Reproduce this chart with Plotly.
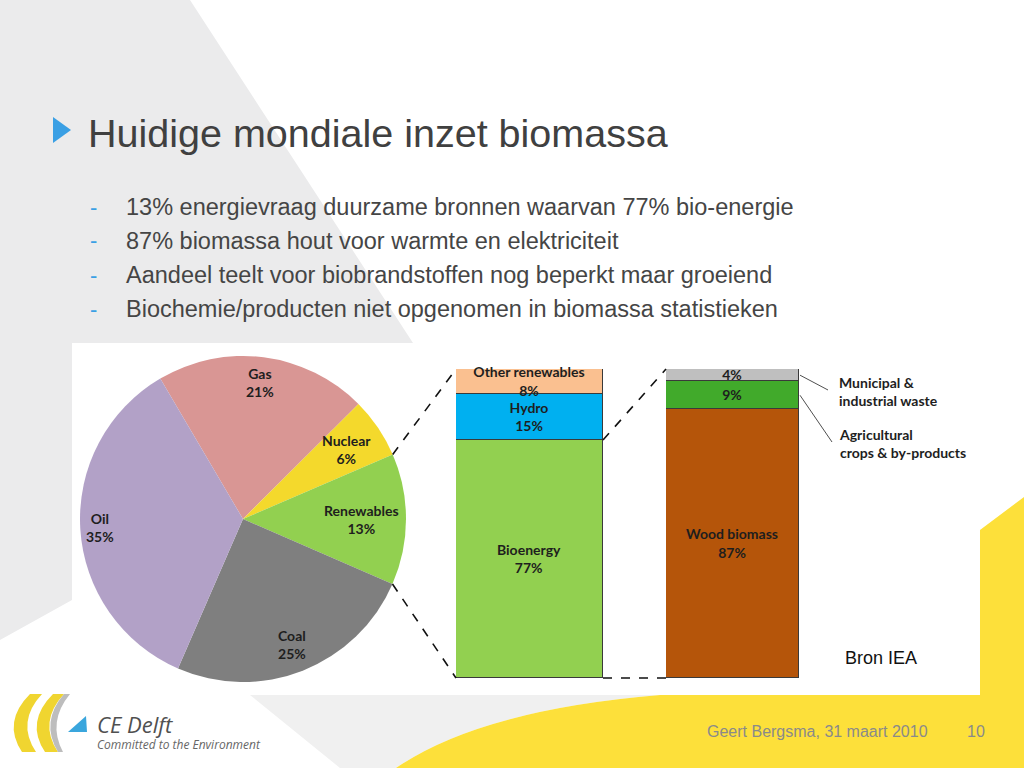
import math
import plotly.graph_objects as go

W, H = 1024, 768

# ---------------- data ----------------
pie_labels = ["Gas", "Nuclear", "Renewables", "Coal", "Oil"]
pie_values = [21, 6, 13, 25, 35]
pie_colors = ["#D99694", "#F4D92C", "#92D050", "#7F7F7F", "#B2A1C7"]

ren_labels = ["Bioenergy", "Hydro", "Other renewables"]
ren_values = [77, 15, 8]
ren_colors = ["#92D050", "#00B0F0", "#FAC090"]

bio_labels = ["Wood biomass", "Agricultural<br>crops & by-products", "Municipal &<br>industrial waste"]
bio_values = [87, 9, 4]
bio_colors = ["#B5550A", "#41AA2B", "#BFBFBF"]
bio_callout = [False, True, True]

title = "Huidige mondiale inzet biomassa"
bullets = [
    "13% energievraag duurzame bronnen waarvan 77% bio-energie",
    "87% biomassa hout voor warmte en elektriciteit",
    "Aandeel teelt voor biobrandstoffen nog beperkt maar groeiend",
    "Biochemie/producten niet opgenomen in biomassa statistieken",
]
source = "Bron IEA"
footer = "Geert Bergsma, 31 maart 2010"
page = "10"

# ---------------- geometry helpers ----------------
def X(px):
    return px / W

def Y(py):
    return 1 - py / H

def path(cmds):
    out = []
    for c in cmds:
        op = c[0]
        pts = c[1:]
        s = op
        for i in range(0, len(pts), 2):
            s += " %.5f,%.5f" % (X(pts[i]), Y(pts[i + 1]))
        out.append(s)
    return " ".join(out) + " Z"

def bold(s):
    return "<b>" + s.replace("<br>", "</b><br><b>") + "</b>"

LABEL_SIZE = 14
LABEL_FONT = dict(family="Lato, 'Open Sans', sans-serif", size=LABEL_SIZE, color="#1E1E1E")
TEXT_COLOR = "#454545"

# pie placement (pixels)
PCX, PCY, PR = 243, 519, 163
ROT = -30.5

# bars placement (pixels)
BAR_TOP, BAR_BOT = 369, 678
B1 = (456, 603)
B2 = (666, 799)

def bar_y(v):
    return Y(BAR_BOT) + v / 100 * (Y(BAR_TOP) - Y(BAR_BOT))

fig = go.Figure()

fig.add_trace(go.Pie(
    labels=pie_labels, values=pie_values, sort=False, direction="clockwise",
    rotation=ROT, marker=dict(colors=pie_colors, line=dict(width=0)),
    textinfo="none", hoverinfo="label+percent", showlegend=False,
    domain=dict(x=[X(PCX - PR), X(PCX + PR)], y=[Y(PCY + PR), Y(PCY - PR)]),
))

for lab, v, col in zip(ren_labels, ren_values, ren_colors):
    fig.add_trace(go.Bar(
        x=[0], y=[v], width=1, xaxis="x", yaxis="y", name=lab,
        marker=dict(color=col, line=dict(color="#3A3A3A", width=1)),
        text=[bold("%s<br>%d%%" % (lab, v))], textposition="inside",
        insidetextanchor="middle", constraintext="none", cliponaxis=False,
        textfont=LABEL_FONT, showlegend=False,
    ))

for lab, v, col, co in zip(bio_labels, bio_values, bio_colors, bio_callout):
    fig.add_trace(go.Bar(
        x=[0], y=[v], width=1, xaxis="x2", yaxis="y2", name=lab.replace("<br>", " "),
        marker=dict(color=col, line=dict(color="#3A3A3A", width=1)),
        text=[bold("%d%%" % v if co else "%s<br>%d%%" % (lab, v))], textposition="inside",
        insidetextanchor="middle", constraintext="none", cliponaxis=False,
        textfont=LABEL_FONT, showlegend=False,
    ))

ax_common = dict(visible=False, fixedrange=True)
fig.update_layout(
    width=W, height=H, margin=dict(l=0, r=0, t=0, b=0),
    paper_bgcolor="white", plot_bgcolor="rgba(0,0,0,0)",
    barmode="stack", bargap=0,
    xaxis=dict(domain=[X(B1[0]), X(B1[1])], range=[-0.5, 0.5], anchor="y", **ax_common),
    yaxis=dict(domain=[Y(BAR_BOT), Y(BAR_TOP)], range=[0, 100], anchor="x", **ax_common),
    xaxis2=dict(domain=[X(B2[0]), X(B2[1])], range=[-0.5, 0.5], anchor="y2", **ax_common),
    yaxis2=dict(domain=[Y(BAR_BOT), Y(BAR_TOP)], range=[0, 100], anchor="x2", **ax_common),
)

shapes = []
# slide background decorations
shapes.append(dict(type="path", xref="paper", yref="paper", layer="below",
                   path=path([("M", 0, 0), ("L", 190, 0), ("L", 413, 343), ("L", 72, 343),
                              ("L", 72, 600), ("L", 0, 640)]),
                   fillcolor="#EBEBEC", line=dict(width=0)))
shapes.append(dict(type="path", xref="paper", yref="paper", layer="below",
                   path=path([("M", 250, 695), ("L", 660, 695), ("Q", 480, 710, 396, 768),
                              ("L", 340, 768)]),
                   fillcolor="#F0F0F0", line=dict(width=0)))
shapes.append(dict(type="rect", xref="paper", yref="paper", layer="below",
                   x0=X(72), x1=X(980), y0=Y(695), y1=Y(343),
                   fillcolor="white", line=dict(width=0)))
shapes.append(dict(type="path", xref="paper", yref="paper", layer="below",
                   path=path([("M", 980, 530), ("L", 1024, 497), ("L", 1024, 768),
                              ("L", 396, 768), ("Q", 480, 710, 660, 695), ("L", 980, 695)]),
                   fillcolor="#FDE03A", line=dict(width=0)))
# title bullet triangle
shapes.append(dict(type="path", xref="paper", yref="paper",
                   path=path([("M", 53, 117), ("L", 71, 130), ("L", 53, 143)]),
                   fillcolor="#3A9FE4", line=dict(width=0)))
# logo
shapes.append(dict(type="path", xref="paper", yref="paper",
                   path=path([("M", 30, 694), ("Q", 2, 722, 22, 752), ("L", 36, 752),
                              ("Q", 16, 722, 42, 694)]),
                   fillcolor="#F0D530", line=dict(width=0)))
shapes.append(dict(type="path", xref="paper", yref="paper",
                   path=path([("M", 53, 694), ("Q", 25, 722, 45, 752), ("L", 58, 752),
                              ("Q", 38, 722, 64, 694)]),
                   fillcolor="#F0D530", line=dict(width=0)))
shapes.append(dict(type="path", xref="paper", yref="paper",
                   path=path([("M", 64, 694), ("Q", 40, 722, 58, 752), ("L", 63, 752),
                              ("Q", 47, 722, 70, 694)]),
                   fillcolor="#BDBDBD", line=dict(width=0)))
shapes.append(dict(type="path", xref="paper", yref="paper",
                   path=path([("M", 68, 732), ("L", 87, 732), ("L", 86, 716)]),
                   fillcolor="#3AA6DD", line=dict(width=0)))

# dashed connectors: pie renewables slice -> renewables bar
ren_idx = pie_labels.index("Renewables")
cum_before = sum(pie_values[:ren_idx])
a0 = math.radians(ROT + cum_before * 3.6)
a1 = math.radians(ROT + (cum_before + pie_values[ren_idx]) * 3.6)
p0 = (PCX + PR * math.sin(a0), PCY - PR * math.cos(a0))
p1 = (PCX + PR * math.sin(a1), PCY - PR * math.cos(a1))
dash = dict(color="#111111", width=1.6, dash="dash")
shapes.append(dict(type="line", xref="paper", yref="paper", x0=X(p0[0]), y0=Y(p0[1]),
                   x1=X(B1[0]), y1=bar_y(100), line=dash))
shapes.append(dict(type="line", xref="paper", yref="paper", x0=X(p1[0]), y0=Y(p1[1]),
                   x1=X(B1[0]), y1=bar_y(0), line=dash))
# bioenergy segment -> biomass bar
bio_idx = ren_labels.index("Bioenergy")
bio_top = sum(ren_values[:bio_idx + 1])
shapes.append(dict(type="line", xref="paper", yref="paper", x0=X(B1[1]), y0=bar_y(bio_top),
                   x1=X(B2[0]), y1=bar_y(100), line=dash))
shapes.append(dict(type="line", xref="paper", yref="paper", x0=X(B1[1]), y0=bar_y(0),
                   x1=X(B2[0]), y1=bar_y(0), line=dash))

annotations = []
# callouts for small biomass segments
cum = 0
callout_targets = {1: (832, 442), 2: (828, 390)}
callout_text_pos = {1: 424, 2: 372}
for i, (lab, v, co) in enumerate(zip(bio_labels, bio_values, bio_callout)):
    mid = cum + v / 2
    cum += v
    if not co:
        continue
    tx, ty = callout_targets[i]
    shapes.append(dict(type="line", xref="paper", yref="paper", x0=X(B2[1]) + 0.001,
                       y0=bar_y(mid), x1=X(tx), y1=Y(ty),
                       line=dict(color="#222222", width=0.8)))
    annotations.append(dict(xref="paper", yref="paper", x=X(837), y=Y(callout_text_pos[i]),
                            xanchor="left", yanchor="top", align="left", showarrow=False,
                            text=bold(lab), font=LABEL_FONT))

# pie labels: placed inside each slice, pushed toward the rim ("best fit")
cum = 0
for lab, v in zip(pie_labels, pie_values):
    ang = math.radians(ROT + (cum + v / 2) * 3.6)
    cum += v
    tw = max(len(lab), 3) * 0.53 * LABEL_SIZE / 2
    th = 1.2 * LABEL_SIZE
    extent = abs(math.sin(ang)) * tw + abs(math.cos(ang)) * th
    rl = 0.955 * PR - extent
    lx = PCX + rl * math.sin(ang)
    ly = PCY - rl * math.cos(ang)
    annotations.append(dict(xref="paper", yref="paper", x=X(lx), y=Y(ly),
                            xanchor="center", yanchor="middle", showarrow=False,
                            text=bold("%s<br>%d%%" % (lab, v)), font=LABEL_FONT))

SLIDE_FONT = "Liberation Sans, Arial, sans-serif"
annotations.append(dict(xref="paper", yref="paper", x=X(86), y=Y(133), xanchor="left",
                        yanchor="middle", showarrow=False, text=title,
                        font=dict(family=SLIDE_FONT, size=39.5, color="#404040")))
for i, b in enumerate(bullets):
    yy = 207 + i * 34
    annotations.append(dict(xref="paper", yref="paper", x=X(88), y=Y(yy), xanchor="left",
                            yanchor="middle", showarrow=False, text="-",
                            font=dict(family=SLIDE_FONT, size=22, color="#3A9FE4")))
    annotations.append(dict(xref="paper", yref="paper", x=X(124), y=Y(yy), xanchor="left",
                            yanchor="middle", showarrow=False, text=b,
                            font=dict(family=SLIDE_FONT, size=23.5, color=TEXT_COLOR)))
annotations.append(dict(xref="paper", yref="paper", x=X(843), y=Y(658), xanchor="left",
                        yanchor="middle", showarrow=False, text=source,
                        font=dict(family=SLIDE_FONT, size=18, color="#111111")))
annotations.append(dict(xref="paper", yref="paper", x=X(930), y=Y(731), xanchor="right",
                        yanchor="middle", showarrow=False, text=footer,
                        font=dict(family=SLIDE_FONT, size=16, color="#8A8A8A")))
annotations.append(dict(xref="paper", yref="paper", x=X(976), y=Y(731), xanchor="center",
                        yanchor="middle", showarrow=False, text=page,
                        font=dict(family=SLIDE_FONT, size=16, color="#8A8A8A")))
annotations.append(dict(xref="paper", yref="paper", x=X(95), y=Y(724), xanchor="left",
                        yanchor="middle", showarrow=False, text="<i>CE Delft</i>",
                        font=dict(family="Open Sans, sans-serif", size=22, color="#505050")))
annotations.append(dict(xref="paper", yref="paper", x=X(95), y=Y(744), xanchor="left",
                        yanchor="middle", showarrow=False, text="<i>Committed to the Environment</i>",
                        font=dict(family="Open Sans, sans-serif", size=12, color="#666666")))

fig.update_layout(shapes=shapes, annotations=annotations)
fig.write_html("out.html", config={"displayModeBar": False},
               post_script="document.body.style.margin='0';document.body.style.overflow='hidden';")
